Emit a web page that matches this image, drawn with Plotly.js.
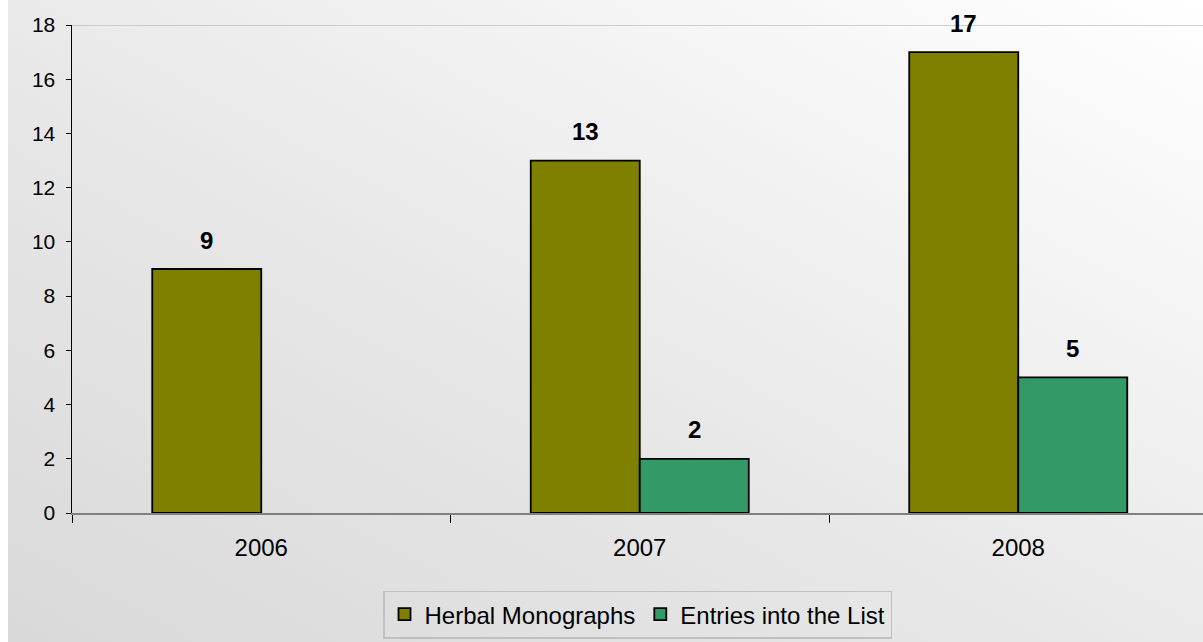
<!DOCTYPE html>
<html>
<head>
<meta charset="utf-8">
<script src="https://cdn.plot.ly/plotly-3.0.1.min.js"></script>
<style>
  html, body { margin: 0; padding: 0; background: #ffffff; width: 1203px; height: 642px; overflow: hidden; }
  #wrap { position: absolute; left: 8px; top: 0; width: 1195px; height: 642px;
          background: linear-gradient(to top right, #d9d9d9 0%, #e6e6e6 40%, #ffffff 100%); }
  #chart { width: 1195px; height: 642px; }
</style>
</head>
<body>
<div id="wrap"><div id="chart"></div></div>
<script>
const years = ["2006", "2007", "2008"];
const herbalMonographs = [9, 13, 17];
const entriesIntoList = [null, 2, 5];
const seriesNames = ["Herbal Monographs", "Entries into the List"];
const seriesColors = ["#808000", "#339966"];
const yTicks = [0, 2, 4, 6, 8, 10, 12, 14, 16, 18];

const FONT = "Arial, 'Liberation Sans', sans-serif";
const bargap = 0.424;
const barW = (1 - bargap) / 2;

const traces = [
  { type: "bar", name: seriesNames[0], x: years, y: herbalMonographs,
    marker: { color: seriesColors[0], line: { color: "#000000", width: 1.8 } } },
  { type: "bar", name: seriesNames[1], x: years, y: entriesIntoList,
    marker: { color: seriesColors[1], line: { color: "#000000", width: 1.8 } } }
];

const annotations = [];
[herbalMonographs, entriesIntoList].forEach((vals, s) => {
  vals.forEach((v, i) => {
    if (v === null || v === undefined) return;
    annotations.push({
      x: i + (s === 0 ? -barW / 2 : barW / 2), y: v, xref: "x", yref: "y",
      text: "<b>" + v + "</b>", showarrow: false, yanchor: "middle", yshift: 29,
      font: { family: FONT, size: 24, color: "#000000" }
    });
  });
});

// plot spans beyond the right edge: category width ~378.5px
const plotWidthPx = 1195 - 64;
const catPx = 378.5;
const xMax = -0.5 + plotWidthPx / catPx;

const layout = {
  width: 1195, height: 642,
  paper_bgcolor: "rgba(0,0,0,0)", plot_bgcolor: "rgba(0,0,0,0)",
  margin: { l: 64, r: 0, t: 25, b: 129, autoexpand: false },
  barmode: "group", bargap: bargap, bargroupgap: 0,
  font: { family: FONT, size: 24, color: "#000000" },
  xaxis: {
    type: "category", range: [-0.5, xMax], automargin: false,
    showline: true, linecolor: "#808080", linewidth: 1.5,
    ticks: "outside", tickson: "boundaries", ticklen: 8, tickcolor: "#000000", tickwidth: 1,
    ticklabelstandoff: 13, showgrid: false, zeroline: false,
    tickfont: { family: FONT, size: 24, color: "#000000" }
  },
  yaxis: {
    range: [0, 18], tickvals: yTicks, ticktext: yTicks.map(String), automargin: false,
    showline: true, linecolor: "#000000", linewidth: 1.5,
    ticks: "outside", ticklen: 5, tickcolor: "#000000", tickwidth: 1,
    ticklabelstandoff: 6, showgrid: false, zeroline: false,
    tickfont: { family: FONT, size: 21, color: "#000000" }
  },
  shapes: [
    { type: "line", xref: "paper", yref: "y", x0: 0, x1: 1, y0: 18, y1: 18,
      line: { color: "#c0c0c0", width: 1.5 }, layer: "below" }
  ],
  annotations: annotations,
  showlegend: true,
  legend: {
    orientation: "h", x: 0.5, xanchor: "center", y: -0.159, yanchor: "top",
    bgcolor: "rgba(0,0,0,0)", bordercolor: "#c0c0c0", borderwidth: 1.5,
    font: { family: FONT, size: 24, color: "#000000" },
    itemwidth: 30, tracegroupgap: 0
  }
};

Plotly.newPlot("chart", traces, layout, { displayModeBar: false, staticPlot: true });
</script>
</body>
</html>
